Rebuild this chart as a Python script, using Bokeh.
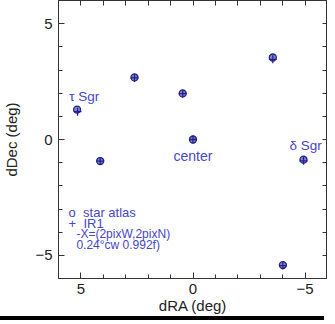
from bokeh.plotting import figure
from bokeh.models import Range1d, FixedTicker, LinearAxis, Div
from bokeh.layouts import column
from bokeh.core.properties import value
from bokeh.embed import file_html
from bokeh.resources import INLINE

# star atlas positions (deg)
atlas_x = [5.17, 4.14, 2.61, 0.46, 0.0, -3.56, -4.93, -4.01]
atlas_y = [1.29, -0.93, 2.68, 1.99, 0.0, 3.54, -0.87, -5.42]
# IR1 positions (deg)
ir1_x = [5.15, 4.14, 2.61, 0.46, 0.0, -3.56, -4.93, -4.01]
ir1_y = [1.20, -0.93, 2.66, 1.98, 0.0, 3.46, -0.92, -5.44]

label_text = ["τ Sgr", "δ Sgr"]
label_x = [5.52, -4.3]
label_y = [1.85, -0.26]
center_text = ["center"]
center_x = [0.0]
center_y = [-0.70]

legend_a = ["o\u00a0\u00a0star atlas", "+\u00a0\u00a0IR1"]
legend_a_x = 5.55
legend_a_y = [-3.13, -3.62]
legend_b = ["-X=(2pixW,2pixN)", "0.24°cw 0.992f)"]
legend_b_x = 5.2
legend_b_y = [-4.10, -4.54]

x_ticks = [5, 0, -5]
y_ticks = [-5, 0, 5]
minor = list(range(-6, 7))

NAVY = "#22228c"
TXT = "#4646c8"
FONT = "Liberation Sans"
AX = "#333333"

p = figure(width=327, height=316, output_backend="svg", toolbar_location=None,
           x_range=Range1d(6, -6), y_range=Range1d(-6, 6),
           min_border_left=55, min_border_right=0, min_border_top=0, min_border_bottom=20)
p.background_fill_color = "white"
p.border_fill_color = "white"
p.outline_line_color = AX
p.outline_line_width = 1
p.grid.visible = False

for ax in [p.xaxis[0], p.yaxis[0]]:
    ax.major_tick_in = 6
    ax.major_tick_out = 0
    ax.minor_tick_in = 4
    ax.minor_tick_out = 0
    ax.axis_line_color = AX
    ax.major_tick_line_color = AX
    ax.minor_tick_line_color = AX
    ax.major_label_text_font = FONT
    ax.major_label_text_font_size = "15px"
    ax.major_label_text_color = "#222222"
    ax.axis_label_text_font = FONT
    ax.axis_label_text_font_size = "15px"
    ax.axis_label_text_font_style = "normal"
    ax.axis_label_text_color = "#222222"

p.xaxis.ticker = FixedTicker(ticks=x_ticks, minor_ticks=minor)
p.yaxis.ticker = FixedTicker(ticks=y_ticks, minor_ticks=minor)
p.xaxis.axis_label = "dRA (deg)"
p.yaxis.axis_label = "dDec (deg)"
p.xaxis.major_label_standoff = 5
p.xaxis.axis_label_standoff = 0
p.yaxis.major_label_standoff = 6
p.yaxis.axis_label_standoff = 12

for loc in ["above", "right"]:
    a = LinearAxis(ticker=FixedTicker(ticks=[], minor_ticks=minor),
                   major_tick_in=0, major_tick_out=0, minor_tick_in=5, minor_tick_out=0,
                   axis_line_color=AX, minor_tick_line_color=AX,
                   major_label_standoff=0, axis_label_standoff=0)
    p.add_layout(a, loc)

p.scatter(atlas_x, atlas_y, marker="circle", size=7, fill_color=NAVY, fill_alpha=0.55,
          line_color=NAVY, line_width=1.3)
p.scatter(ir1_x, ir1_y, marker="cross", size=8, line_color=NAVY, line_width=1.3)

p.text(label_x, label_y, text=label_text, text_font=value(FONT), text_font_size="13.5px",
       text_color=TXT, text_align="left", text_baseline="middle")
p.text(center_x, center_y, text=center_text, text_font=value(FONT), text_font_size="14px",
       text_color=TXT, text_align="center", text_baseline="middle")
p.text([legend_a_x] * 2, legend_a_y, text=legend_a, text_font=value(FONT),
       text_font_size="13px", text_color=TXT, text_align="left", text_baseline="middle")
p.text([legend_b_x] * 2, legend_b_y, text=legend_b, text_font=value(FONT),
       text_font_size="12px", text_color=TXT, text_align="left", text_baseline="middle")

bar = Div(text="", width=335, height=4,
          styles={"background-color": "black", "position": "absolute",
                  "top": "311px", "left": "-8px"})

layout = column(p, bar)
open("out.html", "w").write(file_html(layout, INLINE))
